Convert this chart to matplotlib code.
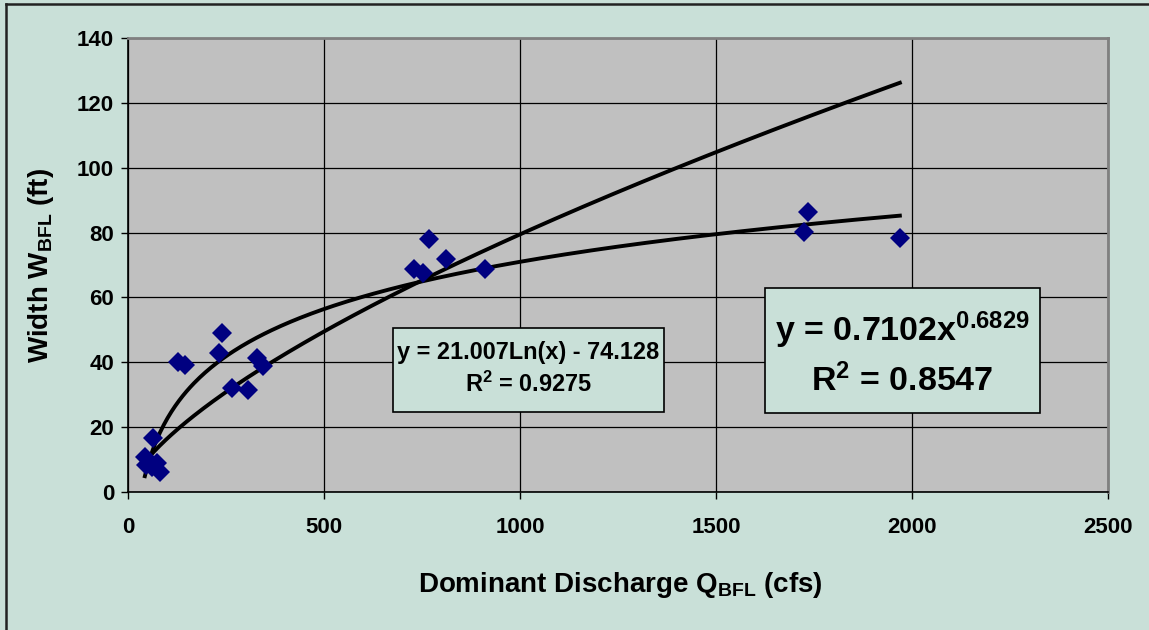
import numpy as np
import matplotlib
matplotlib.use("Agg")
import matplotlib.pyplot as plt
from matplotlib.patches import Rectangle
from matplotlib.lines import Line2D

plt.rcParams['font.family'] = ['Liberation Sans', 'DejaVu Sans']
plt.rcParams['font.weight'] = 'bold'
plt.rcParams['mathtext.fontset'] = 'custom'
plt.rcParams['mathtext.rm'] = 'Liberation Sans:bold'
plt.rcParams['mathtext.bf'] = 'Liberation Sans:bold'
plt.rcParams['mathtext.it'] = 'Liberation Sans:bold'

# Dominant (bankfull) discharge, cfs, and bankfull width, ft
discharge = [43, 45, 61, 64, 73, 81, 128, 145, 232, 240, 265, 306, 329, 344,
             730, 753, 768, 811, 911, 1725, 1735, 1969]
width = [10.8, 8.3, 7.7, 16.6, 9.0, 6.2, 40.2, 39.2, 43.0, 49.0, 32.0, 31.5,
         41.3, 39.0, 68.8, 67.5, 78.0, 71.8, 68.8, 80.2, 86.3, 78.3]

# Trendline coefficients
log_a, log_b, log_r2 = 21.007, -74.128, 0.9275
pow_a, pow_b, pow_r2 = 0.7102, 0.6829, 0.8547

xticks = [0, 500, 1000, 1500, 2000, 2500]
yticks = [0, 20, 40, 60, 80, 100, 120, 140]

bg = '#C9E0D8'
fig = plt.figure(figsize=(11.49, 6.30), dpi=100, facecolor=bg)
W, H = 1149, 630
ax = fig.add_axes([128 / W, 1 - 492 / H, 980 / W, 454 / H])
ax.set_facecolor('#C0C0C0')

# outer frame of the chart area
fig.add_artist(Line2D([6 / W, 6 / W], [0, 1 - 4 / H], transform=fig.transFigure,
                      color='#222222', lw=1.8))
fig.add_artist(Line2D([6 / W, 1], [1 - 4 / H, 1 - 4 / H], transform=fig.transFigure,
                      color='#222222', lw=1.8))

ax.set_xlim(0, 2500)
ax.set_ylim(0, 140)
ax.set_xticks(xticks)
ax.set_yticks(yticks)
ax.grid(True, color='black', lw=0.9)
ax.set_axisbelow(True)

for s in ['top', 'right']:
    ax.spines[s].set_color('#808080')
    ax.spines[s].set_linewidth(2)
for s in ['left', 'bottom']:
    ax.spines[s].set_color('black')
    ax.spines[s].set_linewidth(1.2)

ax.tick_params(axis='both', direction='out', length=5, width=1, color='black',
               labelsize=16)
ax.tick_params(axis='x', pad=13)
ax.tick_params(axis='y', pad=5)
for lab in ax.get_xticklabels() + ax.get_yticklabels():
    lab.set_fontweight('bold')

# trendlines over the data range
xs = np.linspace(min(discharge), max(discharge), 400)
ax.plot(xs, log_a * np.log(xs) + log_b, color='black', lw=2.8, zorder=3)
ax.plot(xs, pow_a * xs ** pow_b, color='black', lw=2.8, zorder=3)

ax.plot(discharge, width, linestyle='none', marker='D', markersize=10.5,
        markerfacecolor='#000080', markeredgewidth=0, zorder=4)

ax.set_xlabel(r'Dominant Discharge Q$_{\mathrm{BFL}}$ (cfs)', fontsize=20,
              fontweight='bold')
ax.set_ylabel(r'Width W$_{\mathrm{BFL}}$ (ft)', fontsize=20, fontweight='bold')
ax.xaxis.set_label_coords(0.502, -0.205)
ax.xaxis.label.set_va('center')
ax.yaxis.set_label_coords(-0.089, 0.5)
ax.yaxis.label.set_va('center')

# equation boxes
def eq_box(x0, x1, y0, y1):
    fx = lambda px: (px - 128) / 980
    fy = lambda py: (492 - py) / 454
    ax.add_patch(Rectangle((fx(x0), fy(y1)), fx(x1) - fx(x0), fy(y0) - fy(y1),
                           transform=ax.transAxes, facecolor=bg,
                           edgecolor='black', lw=1.2, zorder=5))
    return fx, fy

fx, fy = eq_box(393, 664, 328, 412)
ax.text(fx(528.5), fy(352), f'y = {log_a:.3f}Ln(x) - {abs(log_b):.3f}',
        transform=ax.transAxes, ha='center', va='center', fontsize=16.9,
        fontweight='bold', zorder=6)
ax.text(fx(528.5), fy(384), r'R$^2$ = ' + f'{log_r2:.4f}',
        transform=ax.transAxes, ha='center', va='center', fontsize=16.9,
        fontweight='bold', zorder=6)

fx, fy = eq_box(765, 1040, 288, 413)
ax.text(fx(902), fy(330), r'y = %.4fx$^{%.4f}$' % (pow_a, pow_b),
        transform=ax.transAxes, ha='center', va='center', fontsize=24.5,
        fontweight='bold', zorder=6)
ax.text(fx(902), fy(381), r'R$^2$ = ' + f'{pow_r2:.4f}',
        transform=ax.transAxes, ha='center', va='center', fontsize=24.5,
        fontweight='bold', zorder=6)

fig.savefig('out.png', dpi=100, facecolor=bg)
